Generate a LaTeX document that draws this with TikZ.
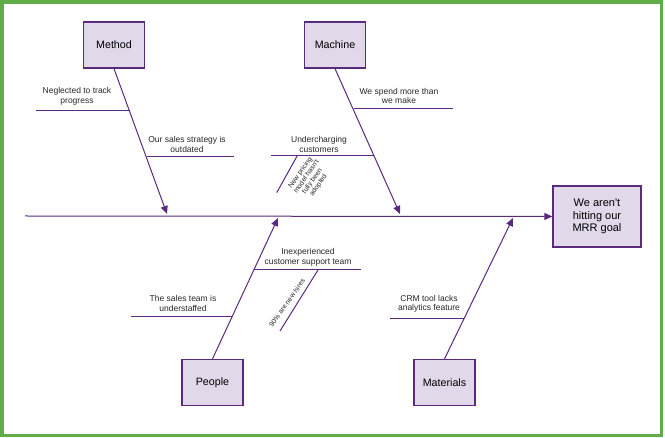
\documentclass[tikz,border=0pt]{standalone}
\usepackage{fontspec}
\setmainfont{Liberation Sans}
\usetikzlibrary{arrows.meta}

\definecolor{bonecol}{RGB}{90,42,125}
\definecolor{boxcol}{RGB}{225,216,233}
\definecolor{framecol}{RGB}{96,172,72}

\tikzstyle{cause}=[draw=bonecol,fill=boxcol,line width=1.3pt,minimum width=61pt,minimum height=46pt,inner sep=2pt,font=\fontsize{10.7}{12.5}\selectfont]
\tikzstyle{effect}=[cause,minimum width=88pt,minimum height=61pt,align=center,font=\fontsize{11}{12.5}\selectfont]
\tikzstyle{note}=[align=center,inner sep=0pt,text=black!85,font=\fontsize{8.5}{9.4}\selectfont]
\tikzstyle{tiny}=[note,font=\fontsize{6.9}{7.3}\selectfont]
\tikzstyle{rib}=[draw=bonecol,line width=1pt]
\tikzstyle{bone}=[rib,-{Triangle[length=8pt,width=7pt]}]

\begin{document}
\begin{tikzpicture}[x=1pt,y=-1pt]
		\useasboundingbox (0,0) rectangle (665,438);
		\draw[framecol,line width=3.5pt] (2,2) rectangle (661.5,435.5);
		% the head and the four causes
		\node[effect] (goal) at (597,216.5) {We aren\textquotesingle t\\hitting our\\MRR goal};
		\node[cause] (method) at (114,45) {Method};
		\node[cause] (machine) at (335,45) {Machine};
		\node[cause] (people) at (212.5,382.5) {People};
		\node[cause] (materials) at (444.5,382.5) {Materials};
		% spine
		\coordinate (tail) at (25,216);
		\draw[bone] (tail) -- (goal.west);
		\coordinate (mtip) at (167,214);
		\coordinate (ctip) at (400,214);
		\coordinate (ptip) at (278,218);
		\coordinate (wtip) at (513,218);
		\draw[bone] (method.south) -- (mtip);
		\draw[bone] (machine.south) -- (ctip);
		\draw[bone] (people.north) -- (ptip);
		\draw[bone] (materials.north) -- (wtip);
		% ribs
		\coordinate (m1) at (129.5,110.7);
		\coordinate (m1e) at (36,110.7);
		\coordinate (m2) at (146.5,157);
		\coordinate (m2e) at (234,157);
		\coordinate (c1) at (353.5,108.7);
		\coordinate (c1e) at (453,108.7);
		\coordinate (c2) at (374,155.7);
		\coordinate (c2e) at (271,155.7);
		\coordinate (c2a) at (297.3,155.7);
		\coordinate (c2b) at (276.7,192.7);
		\coordinate (p1) at (232,317);
		\coordinate (p1e) at (131,317);
		\coordinate (p2) at (253.5,270);
		\coordinate (p2e) at (361,270);
		\coordinate (p2a) at (318,270);
		\coordinate (p2b) at (280,331);
		\coordinate (w1) at (464,319);
		\coordinate (w1e) at (390,319);
		\draw[rib] (m1e) -- (m1);
		\draw[rib] (m2) -- (m2e);
		\draw[rib] (c1) -- (c1e);
		\draw[rib] (c2e) -- (c2);
		\draw[rib] (c2a) -- (c2b);
		\draw[rib] (p1e) -- (p1);
		\draw[rib] (p2) -- (p2e);
		\draw[rib] (p2a) -- (p2b);
		\draw[rib] (w1e) -- (w1);
		% labels
		\node[note] (n1) at (77,96.5) {Neglected to track\\progress};
		\node[note] (n2) at (187,144.5) {Our sales strategy is\\outdated};
		\node[note] (n3) at (399,96) {We spend more than\\we make};
		\node[note] (n4) at (319,144.5) {Undercharging\\customers};
		\node[tiny,rotate=55] (n5) at (309.5,179) {New pricing\\model hasn\textquotesingle t\\fully been\\adopted};
		\node[tiny,rotate=55] (n8) at (287,303) {90\% are new hires};
		\node[note] (n6) at (183,303.5) {The sales team is\\understaffed};
		\node[note] (n7) at (308,257.5) {Inexperienced\\customer support team};
		\node[note] (n9) at (429,304) {CRM tool lacks\\analytics feature};
		\end{tikzpicture}
\end{document}
